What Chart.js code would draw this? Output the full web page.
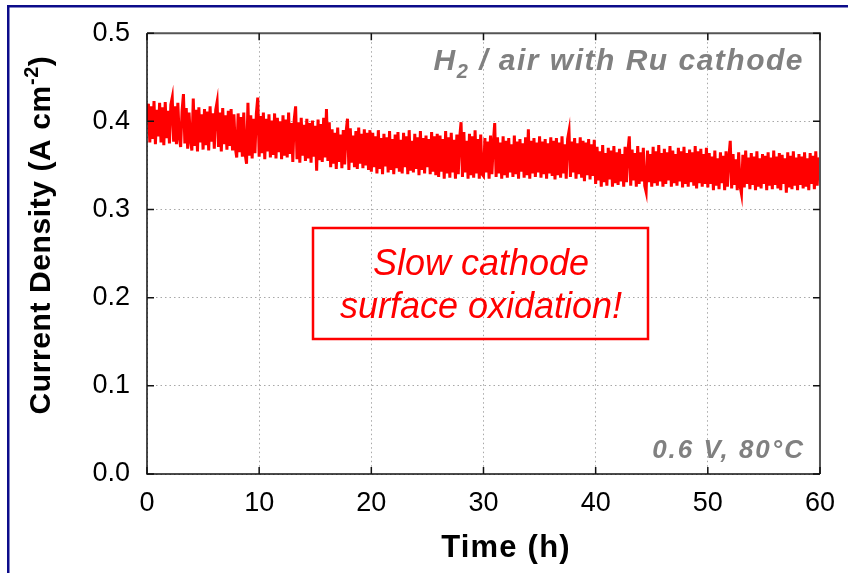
<!DOCTYPE html>
<html>
<head>
<meta charset="utf-8">
<script src="https://cdn.jsdelivr.net/npm/chart.js@4.4.0/dist/chart.umd.min.js"></script>
<style>
  html, body { margin: 0; padding: 0; background: #fff; }
  canvas { display: block; }
</style>
</head>
<body>
<canvas id="myChart" width="848" height="573"></canvas>
<script>
// logger samples every 7.5 min, one array per 10 h block
const STEP_H = 0.125;

const current0to10 = [
  0.401, 0.420, 0.376, 0.417, 0.380, 0.423, 0.374, 0.413, 0.383, 0.421,
  0.376, 0.416, 0.373, 0.422, 0.381, 0.412, 0.375, 0.419, 0.427, 0.377,
  0.417, 0.374, 0.421, 0.382, 0.371, 0.412, 0.431, 0.375, 0.415, 0.369,
  0.410, 0.379, 0.367, 0.426, 0.372, 0.413, 0.366, 0.416, 0.376, 0.408,
  0.368, 0.414, 0.373, 0.411, 0.367, 0.417, 0.377, 0.409, 0.369, 0.413,
  0.422, 0.371, 0.410, 0.366, 0.415, 0.374, 0.407, 0.368, 0.412, 0.372,
  0.414, 0.367, 0.408, 0.370, 0.359, 0.409, 0.365, 0.405, 0.360, 0.410,
  0.363, 0.352, 0.421, 0.361, 0.407, 0.358, 0.403, 0.364, 0.409, 0.427
];
const current10to20 = [
  0.360, 0.406, 0.364, 0.410, 0.357, 0.403, 0.366, 0.408, 0.359, 0.401,
  0.362, 0.409, 0.358, 0.404, 0.365, 0.400, 0.357, 0.407, 0.361, 0.402,
  0.359, 0.410, 0.363, 0.398, 0.354, 0.402, 0.417, 0.357, 0.399, 0.353,
  0.404, 0.361, 0.396, 0.355, 0.403, 0.358, 0.398, 0.353, 0.401, 0.360,
  0.395, 0.344, 0.402, 0.356, 0.397, 0.354, 0.404, 0.359, 0.414, 0.355,
  0.399, 0.348, 0.391, 0.352, 0.387, 0.346, 0.393, 0.354, 0.385, 0.347,
  0.390, 0.351, 0.388, 0.403, 0.345, 0.392, 0.353, 0.384, 0.348, 0.389,
  0.346, 0.393, 0.352, 0.386, 0.347, 0.391, 0.350, 0.387, 0.345, 0.390
];
const current20to30 = [
  0.343, 0.387, 0.348, 0.383, 0.341, 0.390, 0.346, 0.381, 0.340, 0.386,
  0.349, 0.382, 0.342, 0.389, 0.345, 0.380, 0.340, 0.385, 0.347, 0.388,
  0.343, 0.379, 0.341, 0.387, 0.348, 0.383, 0.340, 0.390, 0.344, 0.378,
  0.342, 0.386, 0.346, 0.382, 0.339, 0.389, 0.345, 0.381, 0.341, 0.384,
  0.348, 0.380, 0.340, 0.388, 0.343, 0.383, 0.339, 0.386, 0.337, 0.384,
  0.343, 0.380, 0.335, 0.389, 0.341, 0.382, 0.336, 0.387, 0.342, 0.379,
  0.335, 0.385, 0.340, 0.381, 0.399, 0.337, 0.388, 0.342, 0.378, 0.335,
  0.386, 0.339, 0.383, 0.336, 0.390, 0.341, 0.380, 0.335, 0.385, 0.340
];
const current30to40 = [
  0.338, 0.381, 0.342, 0.377, 0.335, 0.384, 0.340, 0.375, 0.398, 0.337,
  0.382, 0.341, 0.376, 0.335, 0.383, 0.339, 0.378, 0.336, 0.381, 0.342,
  0.374, 0.337, 0.384, 0.340, 0.377, 0.335, 0.380, 0.343, 0.375, 0.336,
  0.382, 0.339, 0.391, 0.335, 0.378, 0.341, 0.381, 0.337, 0.376, 0.342,
  0.383, 0.336, 0.377, 0.340, 0.380, 0.335, 0.375, 0.341, 0.382, 0.338,
  0.378, 0.334, 0.381, 0.339, 0.376, 0.336, 0.383, 0.341, 0.374, 0.335,
  0.380, 0.389, 0.337, 0.377, 0.342, 0.381, 0.335, 0.375, 0.340, 0.382,
  0.336, 0.378, 0.332, 0.376, 0.339, 0.380, 0.334, 0.374, 0.338, 0.379
];
const current40to50 = [
  0.329, 0.371, 0.333, 0.366, 0.326, 0.373, 0.331, 0.364, 0.327, 0.370,
  0.334, 0.367, 0.326, 0.372, 0.330, 0.365, 0.328, 0.369, 0.332, 0.363,
  0.326, 0.371, 0.331, 0.366, 0.383, 0.327, 0.368, 0.333, 0.364, 0.326,
  0.372, 0.329, 0.365, 0.332, 0.370, 0.327, 0.320, 0.367, 0.331, 0.363,
  0.326, 0.371, 0.330, 0.366, 0.327, 0.373, 0.332, 0.364, 0.326, 0.369,
  0.329, 0.365, 0.333, 0.372, 0.326, 0.367, 0.330, 0.363, 0.327, 0.370,
  0.332, 0.366, 0.325, 0.371, 0.329, 0.364, 0.326, 0.368, 0.331, 0.365,
  0.327, 0.372, 0.324, 0.366, 0.330, 0.369, 0.326, 0.363, 0.329, 0.370
];
const current50to60 = [
  0.325, 0.364, 0.329, 0.360, 0.322, 0.367, 0.327, 0.358, 0.323, 0.365,
  0.330, 0.361, 0.322, 0.366, 0.326, 0.359, 0.378, 0.324, 0.363, 0.328,
  0.357, 0.322, 0.365, 0.327, 0.318, 0.362, 0.325, 0.367, 0.329, 0.359,
  0.323, 0.364, 0.328, 0.360, 0.322, 0.366, 0.326, 0.358, 0.324, 0.363,
  0.329, 0.361, 0.322, 0.365, 0.327, 0.359, 0.323, 0.367, 0.328, 0.360,
  0.324, 0.364, 0.322, 0.362, 0.329, 0.358, 0.319, 0.365, 0.325, 0.361,
  0.323, 0.366, 0.327, 0.359, 0.322, 0.363, 0.328, 0.360, 0.324, 0.365,
  0.326, 0.358, 0.322, 0.364, 0.329, 0.361, 0.323, 0.366, 0.327, 0.359,
  0.343
];

const xTicks = [0, 10, 20, 30, 40, 50, 60];
const yTicks = [0.0, 0.1, 0.2, 0.3, 0.4, 0.5];

const FONT = '"Liberation Sans", Arial, sans-serif';

const allCurrent = [].concat(current0to10, current10to20, current20to30,
  current30to40, current40to50, current50to60);
const points = allCurrent.map((v, i) => ({ x: i * STEP_H, y: v }));

// draws a run of [text, size, dy] pieces starting at x
function drawPieces(ctx, pieces, x, y, style) {
  pieces.forEach(p => {
    ctx.font = style + ' ' + p[1] + 'px ' + FONT;
    ctx.fillText(p[0], x, y + p[2]);
    x += ctx.measureText(p[0]).width;
  });
}
function piecesWidth(ctx, pieces, style) {
  let w = 0;
  pieces.forEach(p => {
    ctx.font = style + ' ' + p[1] + 'px ' + FONT;
    w += ctx.measureText(p[0]).width;
  });
  return w;
}

const decorations = {
  id: 'decorations',
  beforeDraw(chart) {
    const ctx = chart.ctx;
    ctx.save();
    ctx.fillStyle = '#fff';
    ctx.fillRect(0, 0, chart.width, chart.height);
    ctx.restore();
  },
  afterDraw(chart) {
    const { ctx, chartArea: a, scales: { x, y } } = chart;
    ctx.save();

    // navy frame
    ctx.fillStyle = '#0c0c8a';
    ctx.fillRect(7, 5, chart.width - 7, 2.5);
    ctx.fillRect(7, 5, 2.5, chart.height - 5);

    // plot box
    ctx.lineWidth = 2;
    ctx.strokeStyle = '#555';
    ctx.beginPath();
    ctx.moveTo(a.left, a.top); ctx.lineTo(a.right, a.top); ctx.lineTo(a.right, a.bottom);
    ctx.stroke();
    ctx.lineWidth = 1.5;
    ctx.strokeStyle = '#111';
    ctx.beginPath();
    ctx.moveTo(a.left, a.top); ctx.lineTo(a.left, a.bottom); ctx.lineTo(a.right, a.bottom);
    ctx.stroke();

    // inward tick marks on all four sides
    ctx.beginPath();
    xTicks.forEach(v => {
      const px = x.getPixelForValue(v);
      ctx.moveTo(px, a.bottom); ctx.lineTo(px, a.bottom - 7);
      ctx.moveTo(px, a.top); ctx.lineTo(px, a.top + 7);
    });
    yTicks.forEach(v => {
      const py = y.getPixelForValue(v);
      ctx.moveTo(a.left, py); ctx.lineTo(a.left + 7, py);
      ctx.moveTo(a.right, py); ctx.lineTo(a.right - 7, py);
    });
    ctx.stroke();

    ctx.textAlign = 'left';
    ctx.textBaseline = 'alphabetic';

    // axis titles
    ctx.fillStyle = '#000';
    ctx.letterSpacing = '1.2px';
    ctx.font = 'bold 31px ' + FONT;
    ctx.textAlign = 'center';
    ctx.fillText('Time (h)', 506, 557);
    ctx.textAlign = 'left';

    ctx.letterSpacing = '0.6px';
    const yTitle = [['Current Density (A cm', 30, 0], ['-2', 20, -12], [')', 30, 0]];
    ctx.save();
    ctx.translate(50, 235);
    ctx.rotate(-Math.PI / 2);
    const wy = piecesWidth(ctx, yTitle, 'bold');
    drawPieces(ctx, yTitle, -wy / 2, 0, 'bold');
    ctx.restore();

    // gray notes
    ctx.fillStyle = '#808080';
    ctx.letterSpacing = '1.5px';
    const gas = [['H', 30, 0], ['2', 20, 8], [' / air with Ru cathode', 30, 0]];
    const wg = piecesWidth(ctx, gas, 'italic bold');
    drawPieces(ctx, gas, 804 - wg, 70, 'italic bold');
    ctx.letterSpacing = '2px';
    ctx.font = 'italic bold 26px ' + FONT;
    ctx.textAlign = 'right';
    ctx.fillText('0.6 V, 80\u00B0C', 805, 458);
    ctx.letterSpacing = '0px';

    // red callout
    ctx.strokeStyle = '#ff0000';
    ctx.lineWidth = 2.5;
    ctx.strokeRect(313, 228, 335, 111);
    ctx.fillStyle = '#ff0000';
    ctx.font = 'italic 36px ' + FONT;
    ctx.textAlign = 'center';
    ctx.fillText('Slow cathode', 481, 275);
    ctx.fillText('surface oxidation!', 481, 318);

    ctx.restore();
  }
};

const gridOpts = { color: '#a8a8a8', lineWidth: 1, drawTicks: false };

new Chart(document.getElementById('myChart').getContext('2d'), {
  type: 'line',
  data: {
    datasets: [{
      data: points,
      borderColor: '#ff0000',
      borderWidth: 3,
      pointRadius: 0,
      tension: 0,
      fill: false
    }]
  },
  options: {
    responsive: false,
    animation: false,
    events: [],
    layout: { padding: { top: 28, right: 26, left: 0, bottom: 0 } },
    plugins: { legend: { display: false }, tooltip: { enabled: false } },
    scales: {
      x: {
        type: 'linear',
        min: 0, max: 60,
        afterFit: s => { s.height = 99; },
        afterBuildTicks: s => { s.ticks = xTicks.map(v => ({ value: v })); },
        border: { display: false, dash: [1.5, 3] },
        grid: gridOpts,
        ticks: { color: '#000', font: { family: FONT, size: 27 }, padding: 13, maxRotation: 0 }
      },
      y: {
        min: 0, max: 0.5,
        afterFit: s => { s.width = 147; },
        afterBuildTicks: s => { s.ticks = yTicks.map(v => ({ value: v })); },
        border: { display: false, dash: [1.5, 3] },
        grid: gridOpts,
        ticks: { color: '#000', font: { family: FONT, size: 27 }, padding: 17,
                 callback: v => v.toFixed(1) }
      }
    }
  },
  plugins: [decorations]
});
</script>
</body>
</html>
